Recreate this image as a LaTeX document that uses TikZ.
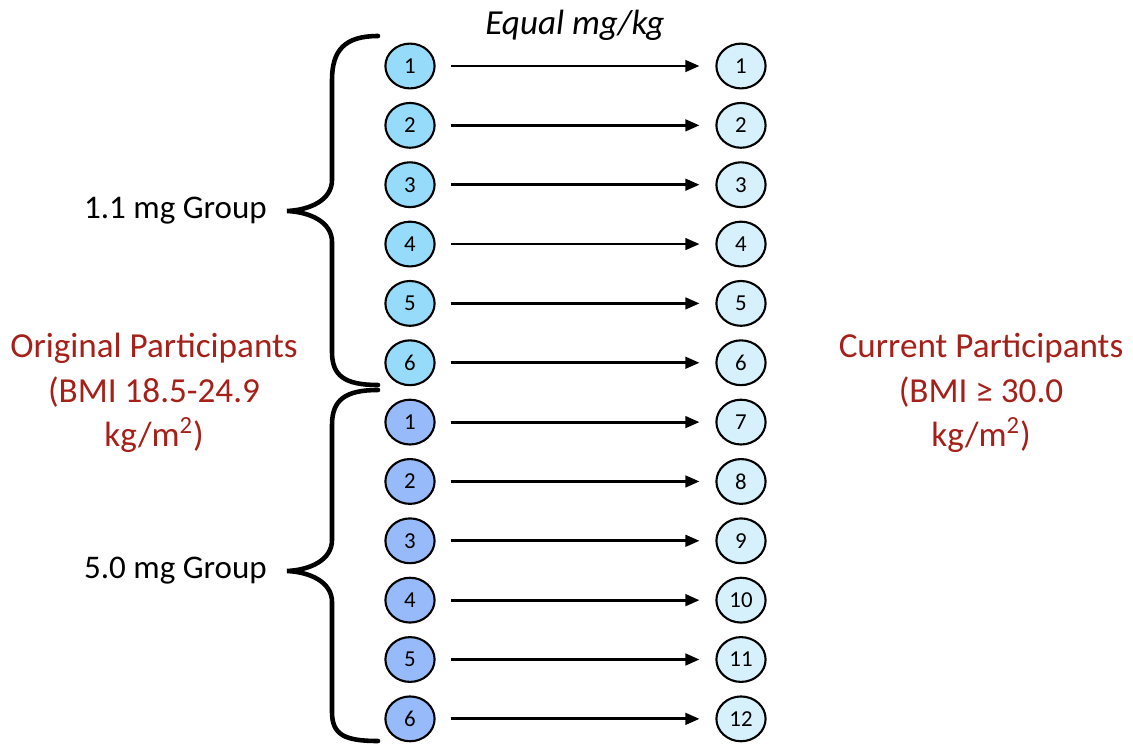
\documentclass[tikz,border=0pt]{standalone}
\usepackage{fontspec}
\setmainfont{Carlito}
\usepackage{tikz}
\usepackage{xcolor}
\usetikzlibrary{arrows.meta,shapes.geometric}

\definecolor{dosetop}{RGB}{150,220,250}
\definecolor{dosebot}{RGB}{150,186,250}
\definecolor{obese}{RGB}{214,240,252}
\definecolor{bmired}{RGB}{165,32,25}

\begin{document}
\begin{tikzpicture}[x=0.02cm,y=-0.02cm,
  pt/.style={ellipse,draw=black,line width=1.2pt,minimum width=28pt,minimum height=25.5pt,inner sep=0pt,font=\fontsize{13}{13}\selectfont},
  dosearrow/.style={line width=1.6pt,-{Triangle[length=8pt,width=6.5pt]},shorten <=8.5pt,shorten >=9pt},
  brace/.style={line width=2.6pt,line cap=round}]
  \useasboundingbox (0,0) rectangle (1133,744);

  \foreach \i in {1,...,12} {
    \pgfmathsetmacro{\ypos}{66+59.35*(\i-1)}
    \pgfmathtruncatemacro{\j}{mod(\i-1,6)+1}
    \ifnum\i<7
      \node[pt,fill=dosetop] (l\i) at (410,\ypos) {\j};
    \else
      \node[pt,fill=dosebot] (l\i) at (410,\ypos) {\j};
    \fi
    \node[pt,fill=obese] (r\i) at (741,\ypos) {\i};
    \draw[dosearrow] (l\i.east) -- (r\i.west);
  }

  \draw[brace] (378,36) .. controls (345,36) and (332,50) .. (332,80) -- (332,180)
    .. controls (332,200) and (310,210) .. (287,211)
    .. controls (310,212) and (332,222) .. (332,242) -- (332,352)
    .. controls (332,376) and (345,385) .. (378,385);
  \draw[brace] (378,390) .. controls (345,390) and (332,400) .. (332,425) -- (332,540)
    .. controls (332,560) and (310,570) .. (287,571)
    .. controls (310,572) and (332,582) .. (332,602) -- (332,712)
    .. controls (332,735) and (345,741) .. (378,741);

  \node[anchor=east,font=\fontsize{18.8}{22}\selectfont] (grpa) at (273,211) {1.1 mg Group};
  \node[anchor=east,font=\fontsize{18.8}{22}\selectfont] (grpb) at (273,571) {5.0 mg Group};
  \node[font=\fontsize{20}{24}\selectfont\itshape] (equal) at (575,25) {Equal mg/kg};

  \node[bmired,align=center,font=\fontsize{20}{25.5}\selectfont] (orig) at (154,393)
    {Original Participants\\(BMI 18.5-24.9\\kg/m\textsuperscript{2})};
  \node[bmired,align=center,font=\fontsize{20}{25.5}\selectfont] (curr) at (981,393)
    {Current Participants\\(BMI ≥ 30.0\\kg/m\textsuperscript{2})};
\end{tikzpicture}
\end{document}
